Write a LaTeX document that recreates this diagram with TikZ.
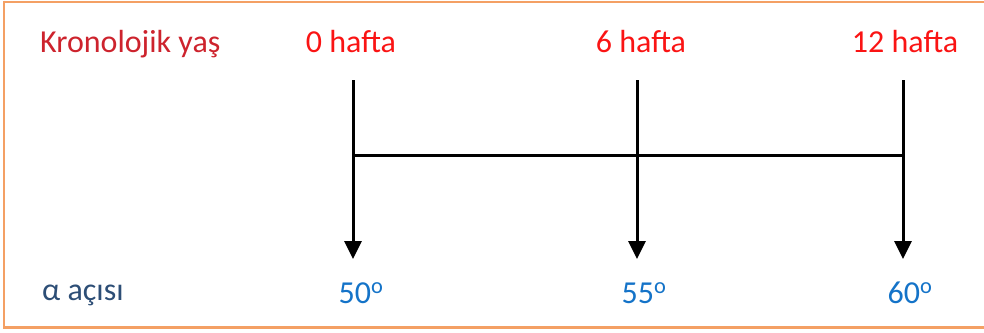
\documentclass[tikz,border=0pt]{standalone}
\usepackage{fontspec}
\setmainfont{Carlito}
\usetikzlibrary{arrows.meta}
\definecolor{frameor}{RGB}{244,160,100}
\definecolor{lblred}{RGB}{205,35,45}
\definecolor{hred}{RGB}{250,20,20}
\definecolor{alblue}{RGB}{45,78,118}
\definecolor{valblue}{RGB}{20,115,200}
\tikzset{
  lbl/.style={anchor=base, inner sep=0pt, font=\fontsize{32}{37}\selectfont},
  toplbl/.style={lbl, text=hred},
  vallbl/.style={lbl, text=valblue},
  tline/.style={line width=3pt, black},
  tarrow/.style={tline, -{Triangle[width=17pt,length=18pt]}},
}
\begin{document}
\begin{tikzpicture}[x=1pt,y=-1pt]
\useasboundingbox (0,0) rectangle (984,332);
% frame
\draw[frameor, line width=2pt] (4,1.5) -- (990,1.5);
\draw[frameor, line width=2pt] (4,0.5) -- (4,328);
\draw[frameor, line width=3pt] (3,327.5) -- (990,327.5);
% labels
\node[lbl, text=lblred, anchor=base west] (kron) at (40,52) {Kronolojik yaş};
\node[lbl, text=alblue, anchor=base west] (alpha) at (42,300) {α açısı};
\node[toplbl] (t0) at (351,52) {0 hafta};
\node[toplbl] (t1) at (641,52) {6 hafta};
\node[toplbl] (t2) at (905,52) {12 hafta};
\node[vallbl] (v0) at (361,303) {50\textsuperscript{o}};
\node[vallbl] (v1) at (644,303) {55\textsuperscript{o}};
\node[vallbl] (v2) at (910,303) {60\textsuperscript{o}};
% timeline
\coordinate (a0) at (353,80);
\coordinate (a1) at (637,80);
\coordinate (a2) at (903,80);
\coordinate (b0) at (353,259);
\coordinate (b1) at (637,259);
\coordinate (b2) at (903,259);
\coordinate (h0) at (353,155);
\coordinate (h2) at (903,155);
\draw[tline] (h0) -- (h2);
\draw[tarrow] (a0) -- (b0);
\draw[tarrow] (a1) -- (b1);
\draw[tarrow] (a2) -- (b2);
\end{tikzpicture}
\end{document}
